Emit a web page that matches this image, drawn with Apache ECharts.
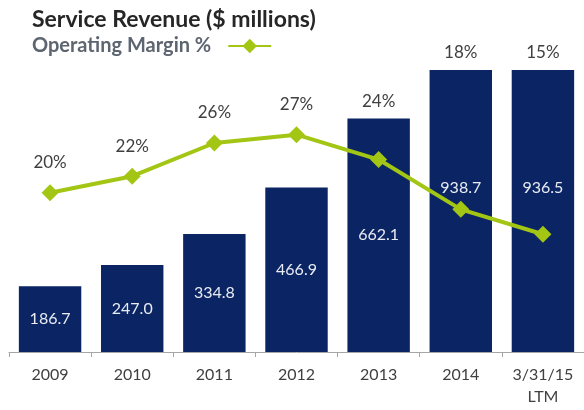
<!DOCTYPE html>
<html>
<head>
<meta charset="utf-8">
<script src="https://cdn.jsdelivr.net/npm/echarts@6/dist/echarts.min.js"></script>
<style>
  html, body { margin: 0; padding: 0; background: #fff; }
  #chart { width: 584px; height: 410px; }
</style>
</head>
<body>
<div id="chart"></div>
<script>
// data
const years = ['2009', '2010', '2011', '2012', '2013', '2014', '3/31/15\nLTM'];
const revenue = [186.7, 247.0, 334.8, 466.9, 662.1, 938.7, 936.5];
const margin = [20, 22, 26, 27, 24, 18, 15];

// how far each % label sits above its marker (labels clear the tall bars)
const marginLabelGap = [13, 13, 13, 13, 41, 140, 165];
// bar labels sit at the middle of the full (unclipped) bar
const revenueLabelShift = [0, 0, 0, 0, 0, -23, -23];

const navy = '#0a2464';
const lime = '#a3c614';

var myChart = echarts.init(document.getElementById('chart'));

var option = {
  animation: false,
  title: {
    text: 'Service Revenue ($ millions)',
    left: 27,
    top: 3,
    textStyle: { fontFamily: 'Lato', fontWeight: 'bold', fontSize: 23, color: '#262626' }
  },
  legend: {
    left: 27,
    top: 31,
    align: 'right',
    itemWidth: 43,
    itemHeight: 18,
    itemGap: 10,
    data: ['Operating Margin %'],
    textStyle: { fontFamily: 'Lato', fontWeight: 'bold', fontSize: 20, color: '#5d6570', padding: [0, 12, 0, 0] }
  },
  grid: { left: 9, right: -2, top: 70, bottom: 58, containLabel: false },
  xAxis: {
    type: 'category',
    data: years,
    axisLine: { lineStyle: { color: '#a6a6a6' } },
    axisTick: { show: true, length: 5, lineStyle: { color: '#a6a6a6' } },
    axisLabel: {
      fontFamily: 'Lato', fontSize: 16, color: '#404040', margin: 12, lineHeight: 22
    }
  },
  yAxis: [
    { type: 'value', min: 0, max: 800, show: false, splitLine: { show: false } },
    { type: 'value', min: 0.8, max: 34.8, show: false, splitLine: { show: false } }
  ],
  series: [
    {
      name: 'Service Revenue',
      type: 'bar',
      barCategoryGap: '24%',
      clip: true,
      itemStyle: { color: navy },
      label: {
        show: true,
        position: 'inside',
        fontFamily: 'Lato',
        fontSize: 16,
        color: '#e9ecf3',
        formatter: p => p.value.toFixed(1)
      },
      data: revenue.map((v, i) => ({ value: v, label: { offset: [0, revenueLabelShift[i]] } }))
    },
    {
      name: 'Operating Margin %',
      type: 'line',
      yAxisIndex: 1,
      symbol: 'diamond',
      symbolSize: 17,
      lineStyle: { color: lime, width: 4 },
      itemStyle: { color: lime },
      label: {
        show: true,
        position: 'top',
        fontFamily: 'Lato',
        fontSize: 17,
        color: '#404040',
        formatter: '{c}%'
      },
      data: margin.map((v, i) => ({ value: v, label: { distance: marginLabelGap[i] } }))
    }
  ]
};
myChart.setOption(option);
</script>
</body>
</html>
